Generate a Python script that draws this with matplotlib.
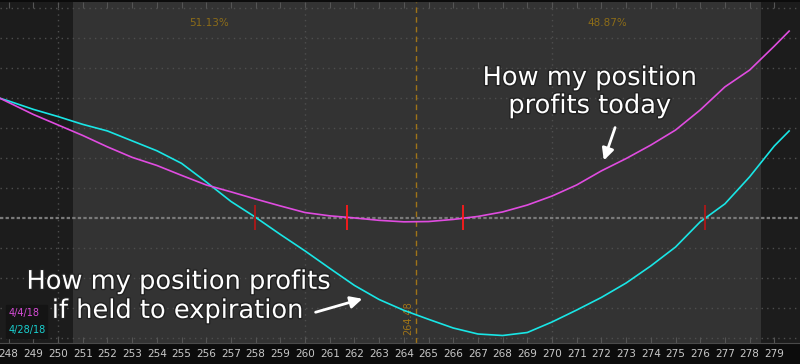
import matplotlib
matplotlib.use("Agg")
import matplotlib.pyplot as plt
import matplotlib.patheffects as pe

# ---- data (underlying price vs. P/L) ----
prices = [247.65, 248, 249, 250, 251, 252, 253, 254, 255, 256, 257, 258, 259, 260,
          261, 262, 263, 264, 265, 266, 267, 268, 269, 270, 271, 272, 273, 274,
          275, 276, 277, 278, 279, 279.6]
pl_today = [399, 385, 345, 310, 275, 237, 202, 175, 142, 110, 87, 63, 40, 18,
            7, 0, -8, -13, -12, -5, 5, 20, 43, 73, 110, 157, 198, 243,
            293, 360, 437, 493, 573, 623]
pl_expiry = [399, 390, 362, 338, 312, 290, 257, 224, 182, 120, 55, 2, -55, -110,
             -168, -225, -272, -308, -338, -367, -387, -392, -382, -347, -307, -265, -217, -160,
             -97, -13, 47, 137, 240, 290]
label_today = "4/4/18"
label_expiry = "4/28/18"
breakeven_expiry = [257.98, 276.2]
breakeven_today = [261.7, 266.4]
current_price = 264.48
prob_below = "51.13%"
prob_above = "48.87%"
sd_low, sd_high = 250.6, 278.45
xticks = list(range(248, 280))

# ---- figure ----
fig = plt.figure(figsize=(8, 3.64), dpi=100, facecolor="#0c0c0c")
ax = fig.add_axes([0, 21 / 364, 1, 341 / 364])
ax.set_facecolor("#333333")
xmin, xmax = 247.65, 280.04
ymin, ymax = -417, 720
ax.set_xlim(xmin, xmax)
ax.set_ylim(ymin, ymax)

# shaded outside 1-SD region
ax.axvspan(xmin, sd_low, color="#1c1c1c", zorder=0, lw=0)
ax.axvspan(sd_high, xmax, color="#1c1c1c", zorder=0, lw=0)

# grid
for gy in range(-400, 701, 100):
    if gy == 0:
        continue
    ax.axhline(gy, color="#4e4e4e", lw=1.0, ls=(0, (1, 3)), zorder=1)
for gx in [250, 260, 270]:
    ax.axvline(gx, color="#4e4e4e", lw=1.0, ls=(0, (1, 3)), zorder=1)
ax.axhline(0, color="#7a7a7a", lw=1.6, ls=(0, (1.5, 1)), zorder=1)

# current price line
ax.axvline(current_price, color="#a07418", lw=1.0, ls=(0, (4, 3)), zorder=2)
ax.text(current_price - 0.1, -333, f"{current_price:.2f}", rotation=90, color="#a07418",
        fontsize=7, ha="right", va="center", zorder=3)

# curves
ax.plot(prices, pl_expiry, color="#19e6e6", lw=1.2, zorder=4)
ax.plot(prices, pl_today, color="#e04ce0", lw=1.2, zorder=4)

# breakeven markers
ax.vlines(breakeven_expiry, -40, 43, color="#b01818", lw=1.3, zorder=5)
ax.vlines(breakeven_today, -40, 43, color="#ff1a1a", lw=1.3, zorder=5)

# probability labels
ax.text(256.11, 650, prob_below, color="#8c6c18", fontsize=7.5, ha="center", va="center")
ax.text(272.23, 650, prob_above, color="#8c6c18", fontsize=7.5, ha="center", va="center")

# annotations
stroke = [pe.withStroke(linewidth=2, foreground="#222222")]
ax.text(271.54, 420, "How my position\nprofits today", color="white", fontsize=18.5,
        ha="center", va="center", linespacing=1.1, zorder=6, path_effects=stroke)
ax.text(254.90, -213, "How my position profits", color="white",
        fontsize=18.5, ha="center", va="center", zorder=6, path_effects=stroke)
ax.text(254.86, -310, "if held to expiration", color="white",
        fontsize=18.5, ha="center", va="center", zorder=6, path_effects=stroke)
ax.annotate("", xy=(272.06, 183), xytext=(272.59, 310),
            arrowprops=dict(arrowstyle="-|>,head_width=0.35,head_length=0.7",
                            color="white", lw=2.0), zorder=6)
ax.annotate("", xy=(262.43, -267), xytext=(260.32, -317),
            arrowprops=dict(arrowstyle="-|>,head_width=0.35,head_length=0.7",
                            color="white", lw=2.0), zorder=6)

# legend box
fig.patches.append(plt.Rectangle((6 / 800, (364 - 338) / 364), 41 / 800, 33 / 364,
                                 transform=fig.transFigure, color="#141414", zorder=10))
fig.text(9 / 800, (364 - 313) / 364, label_today, color="#d64cd6", fontsize=7,
         va="center", ha="left", zorder=11)
fig.text(9 / 800, (364 - 330) / 364, label_expiry, color="#19d0d0", fontsize=7,
         va="center", ha="left", zorder=11)

# axes ticks
ax.set_xticks(xticks)
ax.set_xticklabels([str(t) for t in xticks])
ax.set_yticks([])
ax.tick_params(axis="x", direction="in", length=4, color="#555555", labelcolor="#c8c8c8",
               labelsize=7.5, pad=4, top=True, bottom=True)
for s in ax.spines.values():
    s.set_visible(False)
ax.spines["bottom"].set_visible(True)
ax.spines["bottom"].set_color("#4a4a4a")

fig.savefig("out.png", dpi=100, facecolor=fig.get_facecolor())
